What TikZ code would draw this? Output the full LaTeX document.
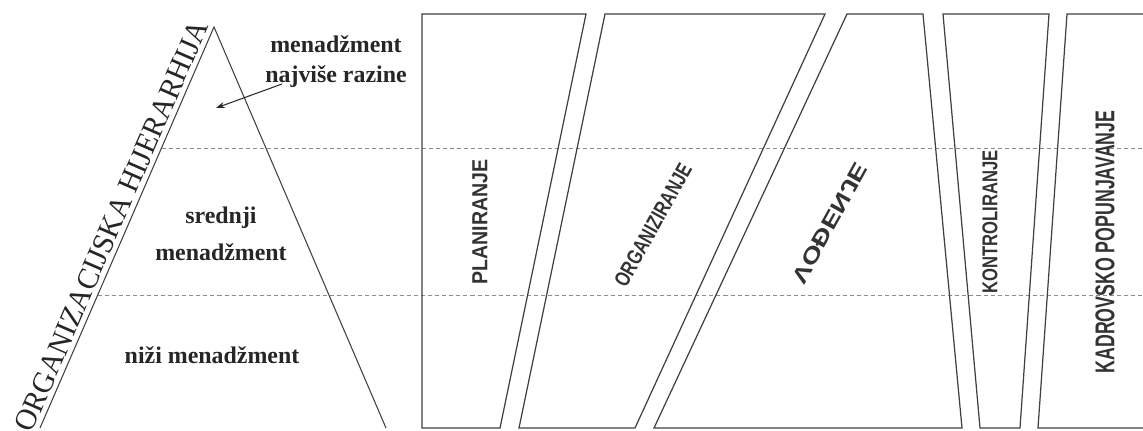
\documentclass[tikz,border=0pt]{standalone}
\usepackage{fontspec}
\setmainfont{Liberation Serif}
\newfontfamily\narrowsans{Liberation Sans}
\usetikzlibrary{arrows.meta, calc}

\begin{document}
\begin{tikzpicture}[
    x=0.02cm, y=-0.02cm,
    every node/.style={inner sep=0pt},
    outline/.style={draw=black!75, line width=0.6pt},
    box/.style={draw=black!75, line width=0.7pt},
    levelline/.style={draw=black!45, line width=0.4pt, dash pattern=on 2.3pt off 1.7pt},
    lvl/.style={font=\fontsize{13.6}{17}\selectfont\bfseries, text=black!85, align=center},
    fn/.style={font=\narrowsans\bfseries, text=black!80},
    arrow/.style={-{Stealth[length=5pt, width=3.5pt]}, line width=0.6pt, black!85}
]
\useasboundingbox (0,0) rectangle (1143,430);

% ============ PYRAMID ============
\coordinate (apex) at (214,27);
\coordinate (pL) at (40,428);
\coordinate (pR) at (386,428);

% level separators
\draw[levelline] (161.5,148) -- (1143,148);
\draw[levelline] (98,295) -- (1143,295);

\draw[outline] (pL) -- (apex) -- (pR);

\node[rotate=66.5, anchor=south, inner sep=2.5pt, text=black!85] (hier) at ($(pL)!0.49!(apex)$)
    {\resizebox{8.9cm}{0.4cm}{ORGANIZACIJSKA HIJERARHIJA}};

% levels
\node[lvl] (top) at (336,62) {menadžment\\najviše razine};
\node[lvl] (mid) at (221,234) {srednji\\[4pt]menadžment};
\node[lvl] (low) at (212,355) {niži menadžment};

\coordinate (arrS) at (282,84);
\coordinate (arrE) at (216,108);
\draw[arrow] (arrS) -- (arrE);

% ============ FUNCTIONS ============
\draw[box] (422,14) -- (586,14) -- (500,428) -- (422,428) -- cycle;
\draw[box] (605,14) -- (825,14) -- (635,428) -- (519,428) -- cycle;
\draw[box] (847,14) -- (923,14) -- (962,428) -- (654,428) -- cycle;
\draw[box] (943,14) -- (1049,14) -- (1020,428) -- (980,428) -- cycle;
\draw[box] (1143,14) -- (1067,14) -- (1038,428) -- (1143,428);

\node[fn, rotate=90] (plan) at (480,222) {\resizebox{2.5cm}{0.3cm}{PLANIRANJE}};
\node[fn, rotate=60.8] (org) at (653,225) {\resizebox{2.74cm}{0.3cm}{ORGANIZIRANJE}};
\node[fn, rotate=61, yscale=-1] (vod) at (830,223) {\resizebox{2.68cm}{0.3cm}{VOĐENJE}};
\node[fn, rotate=90] (kont) at (990,222) {\resizebox{2.86cm}{0.3cm}{KONTROLIRANJE}};
\node[fn, rotate=90] (kadr) at (1105,242) {\resizebox{5.26cm}{0.38cm}{KADROVSKO POPUNJAVANJE}};

\end{tikzpicture}
\end{document}
